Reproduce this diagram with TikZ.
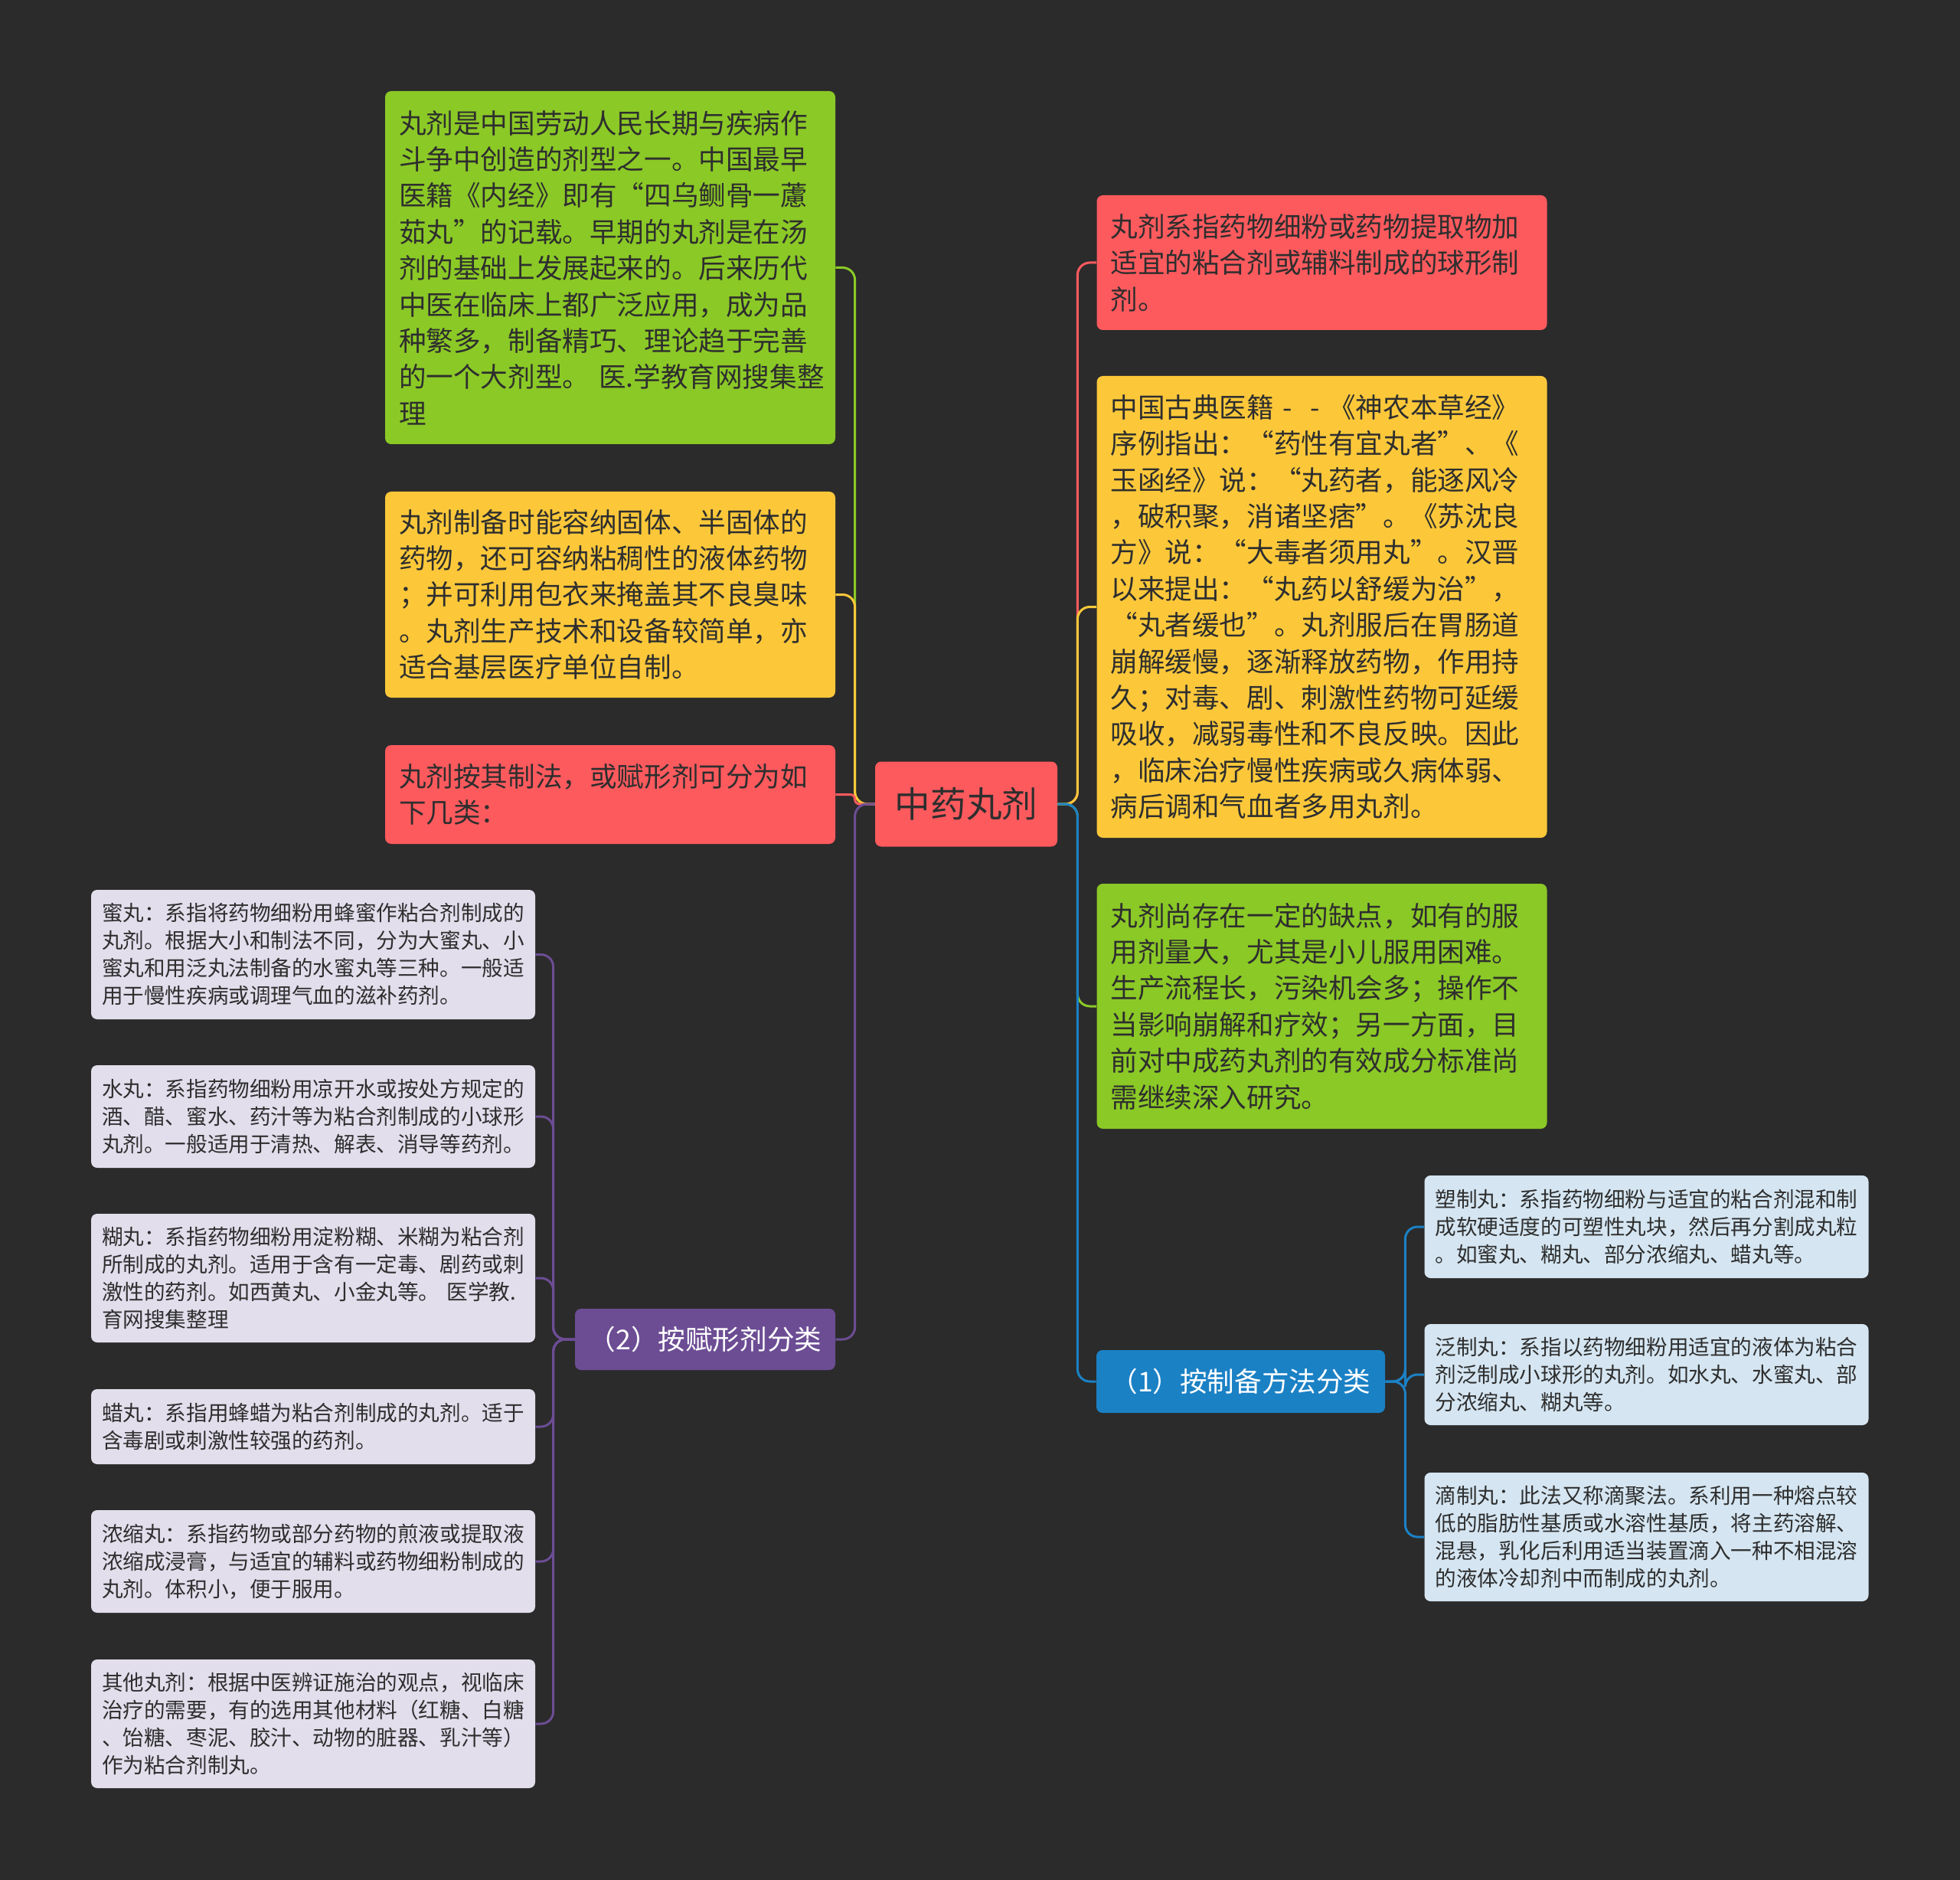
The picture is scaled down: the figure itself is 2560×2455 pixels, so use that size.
\documentclass[tikz,border=0pt]{standalone}
\usepackage{fontspec}
\setmainfont{Noto Sans CJK SC}

\definecolor{bgcol}{HTML}{2B2B2B}
\definecolor{inkcol}{HTML}{2E2E2E}
\definecolor{greenbox}{HTML}{8BC926}
\definecolor{yellowbox}{HTML}{FCC83A}
\definecolor{redbox}{HTML}{FD5A5E}
\definecolor{purplebox}{HTML}{6C4D94}
\definecolor{bluebox}{HTML}{1B81C5}
\definecolor{lavbox}{HTML}{E2DEEC}
\definecolor{skybox}{HTML}{D5E6F2}

\begin{document}
\begin{tikzpicture}[x=0.5pt, y=-0.5pt,
  branch/.style={shape=rectangle, rounded corners=4pt, inner xsep=9pt, inner ysep=0pt, text width=276pt, align=left, text=inkcol, font=\fontsize{17.8pt}{23.7pt}\selectfont},
  leafbox/.style={shape=rectangle, rounded corners=4pt, inner xsep=7pt, inner ysep=0pt, text width=276pt, align=left, text=inkcol, font=\fontsize{13.8pt}{18pt}\selectfont},
  groupbox/.style={shape=rectangle, rounded corners=4pt, inner sep=0pt, text=white, font=\fontsize{17.8pt}{23.7pt}\selectfont},
  link/.style={line width=1.5pt, rounded corners=8pt}]
\fill[bgcol] (0,0) rectangle (2560,2455);

% centre
\node[shape=rectangle, rounded corners=4pt, fill=redbox, text=inkcol, minimum width=119pt, minimum height=55.5pt, inner sep=0pt, font=\fontsize{23.3pt}{28pt}\selectfont] (0) at (1262,1050) {中药丸剂};

% left side
\node[branch, fill=greenbox, minimum height=230.5pt] (1) at (797,349.5) {丸剂是中国劳动人民长期与疾病作\\斗争中创造的剂型之一。中国最早\\医籍《内经》即有“四乌鲗骨一藘\\茹丸”的记载。早期的丸剂是在汤\\剂的基础上发展起来的。后来历代\\中医在临床上都广泛应用，成为品\\种繁多，制备精巧、理论趋于完善\\的一个大剂型。~医.学教育网搜集整\\理};
\node[branch, fill=yellowbox, minimum height=134.5pt] (2) at (797,776.5) {丸剂制备时能容纳固体、半固体的\\药物，还可容纳粘稠性的液体药物\\；并可利用包衣来掩盖其不良臭味\\。丸剂生产技术和设备较简单，亦\\适合基层医疗单位自制。};
\node[branch, fill=redbox, minimum height=64.5pt] (3) at (797,1037.5) {丸剂按其制法，或赋形剂可分为如\\下几类：};
\node[groupbox, fill=purplebox, minimum width=170pt, minimum height=40pt] (4) at (921,1749) {（2）按赋形剂分类};

% right side
\node[branch, fill=redbox, minimum height=88pt] (5) at (1726.5,343) {丸剂系指药物细粉或药物提取物加\\适宜的粘合剂或辅料制成的球形制\\剂。};
\node[branch, fill=yellowbox, minimum height=301.5pt] (6) at (1726.5,792.5) {中国古典医籍\makebox[1em]{-}\makebox[1em]{-}《神农本草经》\\序例指出：“药性有宜丸者”、《\\玉函经》说：“丸药者，能逐风冷\\，破积聚，消诸坚痞”。《苏沈良\\方》说：“大毒者须用丸”。汉晋\\以来提出：“丸药以舒缓为治”，\\“丸者缓也”。丸剂服后在胃肠道\\崩解缓慢，逐渐释放药物，作用持\\久；对毒、剧、刺激性药物可延缓\\吸收，减弱毒性和不良反映。因此\\，临床治疗慢性疾病或久病体弱、\\病后调和气血者多用丸剂。};
\node[branch, fill=greenbox, minimum height=160pt] (7) at (1726.5,1314) {丸剂尚存在一定的缺点，如有的服\\用剂量大，尤其是小儿服用困难。\\生产流程长，污染机会多；操作不\\当影响崩解和疗效；另一方面，目\\前对中成药丸剂的有效成分标准尚\\需继续深入研究。};
\node[groupbox, fill=bluebox, minimum width=188.5pt, minimum height=41pt] (8) at (1620.5,1804) {（1）按制备方法分类};

% by excipient
\node[leafbox, fill=lavbox, minimum height=84.5pt] (9) at (409,1246.5) {蜜丸：系指将药物细粉用蜂蜜作粘合剂制成的\\丸剂。根据大小和制法不同，分为大蜜丸、小\\蜜丸和用泛丸法制备的水蜜丸等三种。一般适\\用于慢性疾病或调理气血的滋补药剂。};
\node[leafbox, fill=lavbox, minimum height=67pt] (10) at (409,1458) {水丸：系指药物细粉用凉开水或按处方规定的\\酒、醋、蜜水、药汁等为粘合剂制成的小球形\\丸剂。一般适用于清热、解表、消导等药剂。};
\node[leafbox, fill=lavbox, minimum height=84pt] (11) at (409,1669) {糊丸：系指药物细粉用淀粉糊、米糊为粘合剂\\所制成的丸剂。适用于含有一定毒、剧药或刺\\激性的药剂。如西黄丸、小金丸等。~医学教.\\育网搜集整理};
\node[leafbox, fill=lavbox, minimum height=49pt] (12) at (409,1863) {蜡丸：系指用蜂蜡为粘合剂制成的丸剂。适于\\含毒剧或刺激性较强的药剂。};
\node[leafbox, fill=lavbox, minimum height=67pt] (13) at (409,2039) {浓缩丸：系指药物或部分药物的煎液或提取液\\浓缩成浸膏，与适宜的辅料或药物细粉制成的\\丸剂。体积小，便于服用。};
\node[leafbox, fill=lavbox, minimum height=84pt] (14) at (409,2251) {其他丸剂：根据中医辨证施治的观点，视临床\\治疗的需要，有的选用其他材料（红糖、白糖\\、饴糖、枣泥、胶汁、动物的脏器、乳汁等）\\作为粘合剂制丸。};

% by method
\node[leafbox, fill=skybox, minimum height=67pt] (15) at (2150.5,1602) {塑制丸：系指药物细粉与适宜的粘合剂混和制\\成软硬适度的可塑性丸块，然后再分割成丸粒\\。如蜜丸、糊丸、部分浓缩丸、蜡丸等。};
\node[leafbox, fill=skybox, minimum height=66pt] (16) at (2150.5,1795) {泛制丸：系指以药物细粉用适宜的液体为粘合\\剂泛制成小球形的丸剂。如水丸、水蜜丸、部\\分浓缩丸、糊丸等。};
\node[leafbox, fill=skybox, minimum height=84pt] (17) at (2150.5,2007) {滴制丸：此法又称滴聚法。系利用一种熔点较\\低的脂肪性基质或水溶性基质，将主药溶解、\\混悬，乳化后利用适当装置滴入一种不相混溶\\的液体冷却剂中而制成的丸剂。};

% connectors
\draw[link, greenbox] (0.west) -- ++(-13pt,0) |- (1.east);
\draw[link, yellowbox] (0.west) -- ++(-13pt,0) |- (2.east);
\draw[link, redbox, rounded corners=3pt] (0.west) -- ++(-13pt,0) |- (3.east);
\draw[link, purplebox] (0.west) -- ++(-13pt,0) |- (4.east);
\draw[link, redbox] (0.east) -- ++(13pt,0) |- (5.west);
\draw[link, yellowbox] (0.east) -- ++(13pt,0) |- (6.west);
\draw[link, greenbox] (0.east) -- ++(13pt,0) |- (7.west);
\draw[link, bluebox] (0.east) -- ++(13pt,0) |- (8.west);
\foreach \n in {9,...,14}
  \draw[link, purplebox] (4.west) -- ++(-14pt,0) |- (\n.east);
\foreach \n in {15,16,17}
  \draw[link, bluebox] (8.east) -- ++(13pt,0) |- (\n.west);
\end{tikzpicture}
\end{document}
